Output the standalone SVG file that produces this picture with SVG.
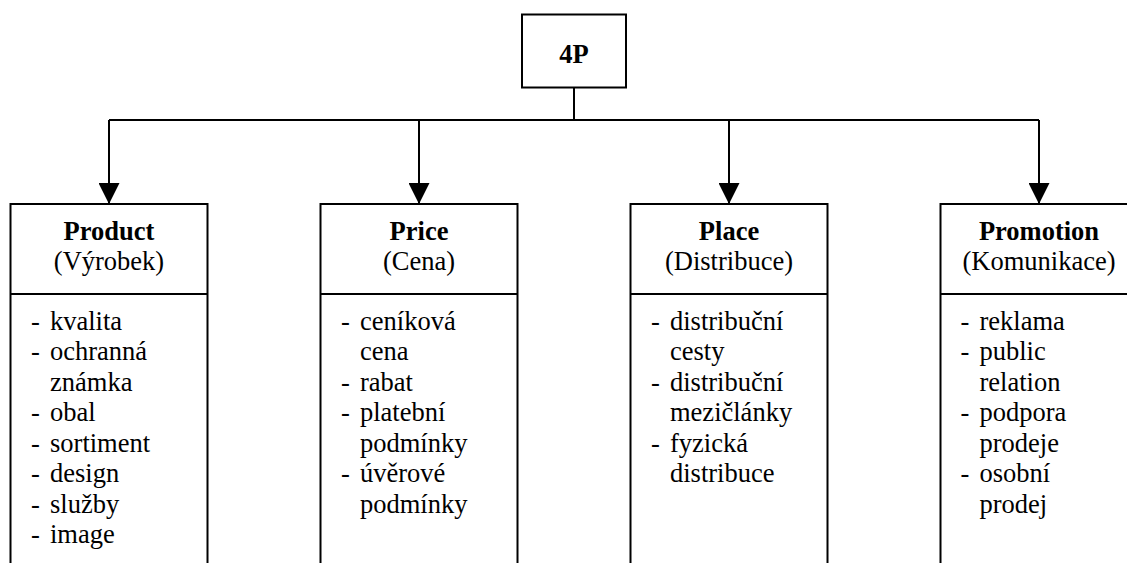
<svg xmlns="http://www.w3.org/2000/svg" width="1127" height="563" viewBox="0 0 1127 563">
<style>
.box{fill:#fff;stroke:#000;stroke-width:2}
.ln{fill:none;stroke:#000;stroke-width:2}
.t{font-family:"Liberation Serif","Times New Roman",serif;font-size:26.5px;fill:#000}
.b{font-weight:bold}
.c{text-anchor:middle}
</style>
<defs>
<marker id="ah" markerUnits="userSpaceOnUse" markerWidth="22" markerHeight="21" refX="21" refY="10.5" orient="auto">
<path d="M0,0 L21,10.5 L0,21 Z" fill="#000"/>
</marker>
</defs>
<rect width="1127" height="563" fill="#fff"/>
<g id="connectors">
<path class="ln" d="M574,88 V120"/>
<path class="ln" d="M109,120 H1039"/>
<path class="ln" d="M109,120 V204" marker-end="url(#ah)"/>
<path class="ln" d="M419,120 V204" marker-end="url(#ah)"/>
<path class="ln" d="M729,120 V204" marker-end="url(#ah)"/>
<path class="ln" d="M1039,120 V204" marker-end="url(#ah)"/>
</g>
<g id="n4p">
<rect class="box" x="522" y="14.5" width="104" height="73"/>
<text class="t b c" x="574" y="62.5">4P</text>
</g>
<g id="product">
<rect class="box" x="10.5" y="204" width="197" height="370"/>
<line class="ln" x1="10.5" y1="294" x2="207.5" y2="294"/>
<text class="t b c" x="109" y="240">Product</text>
<text class="t c" x="109" y="270">(Výrobek)</text>
<text class="t" x="31">
<tspan x="31" y="329.5">-</tspan><tspan x="50" y="329.5">kvalita</tspan>
<tspan x="31" y="360">-</tspan><tspan x="50" y="360">ochranná</tspan>
<tspan x="50" y="390.5">známka</tspan>
<tspan x="31" y="421">-</tspan><tspan x="50" y="421">obal</tspan>
<tspan x="31" y="451.5">-</tspan><tspan x="50" y="451.5">sortiment</tspan>
<tspan x="31" y="482">-</tspan><tspan x="50" y="482">design</tspan>
<tspan x="31" y="512.5">-</tspan><tspan x="50" y="512.5">služby</tspan>
<tspan x="31" y="543">-</tspan><tspan x="50" y="543">image</tspan>
</text>
</g>
<g id="price">
<rect class="box" x="320.5" y="204" width="197" height="370"/>
<line class="ln" x1="320.5" y1="294" x2="517.5" y2="294"/>
<text class="t b c" x="419" y="240">Price</text>
<text class="t c" x="419" y="270">(Cena)</text>
<text class="t">
<tspan x="341" y="329.5">-</tspan><tspan x="360" y="329.5">ceníková</tspan>
<tspan x="360" y="360">cena</tspan>
<tspan x="341" y="390.5">-</tspan><tspan x="360" y="390.5">rabat</tspan>
<tspan x="341" y="421">-</tspan><tspan x="360" y="421">platební</tspan>
<tspan x="360" y="451.5">podmínky</tspan>
<tspan x="341" y="482">-</tspan><tspan x="360" y="482">úvěrové</tspan>
<tspan x="360" y="512.5">podmínky</tspan>
</text>
</g>
<g id="place">
<rect class="box" x="630.5" y="204" width="197" height="370"/>
<line class="ln" x1="630.5" y1="294" x2="827.5" y2="294"/>
<text class="t b c" x="729" y="240">Place</text>
<text class="t c" x="729" y="270">(Distribuce)</text>
<text class="t">
<tspan x="651" y="329.5">-</tspan><tspan x="670" y="329.5">distribuční</tspan>
<tspan x="670" y="360">cesty</tspan>
<tspan x="651" y="390.5">-</tspan><tspan x="670" y="390.5">distribuční</tspan>
<tspan x="670" y="421">mezičlánky</tspan>
<tspan x="651" y="451.5">-</tspan><tspan x="670" y="451.5">fyzická</tspan>
<tspan x="670" y="482">distribuce</tspan>
</text>
</g>
<g id="promotion">
<rect class="box" x="940.5" y="204" width="197" height="370"/>
<line class="ln" x1="940.5" y1="294" x2="1137.5" y2="294"/>
<text class="t b c" x="1039" y="240">Promotion</text>
<text class="t c" x="1039" y="270">(Komunikace)</text>
<text class="t">
<tspan x="960.5" y="329.5">-</tspan><tspan x="979.5" y="329.5">reklama</tspan>
<tspan x="960.5" y="360">-</tspan><tspan x="979.5" y="360">public</tspan>
<tspan x="979.5" y="390.5">relation</tspan>
<tspan x="960.5" y="421">-</tspan><tspan x="979.5" y="421">podpora</tspan>
<tspan x="979.5" y="451.5">prodeje</tspan>
<tspan x="960.5" y="482">-</tspan><tspan x="979.5" y="482">osobní</tspan>
<tspan x="979.5" y="512.5">prodej</tspan>
</text>
</g>
</svg>
